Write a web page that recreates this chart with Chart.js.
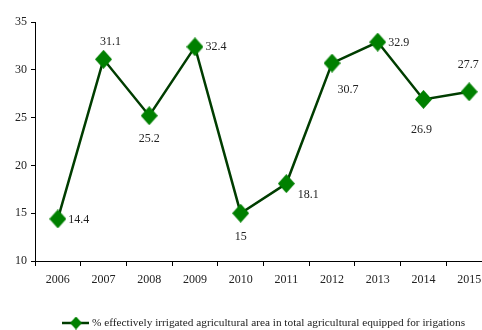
<!DOCTYPE html>
<html lang="en">
<head>
    <meta charset="UTF-8">
    <title>Irrigated agricultural area</title>
    <script src="https://cdn.jsdelivr.net/npm/chart.js"></script>
    <style>
        body {
            margin: 0;
            padding: 0;
            background: #fff;
        }
        /* the original picture is cut off at the right, so the canvas runs a bit past the window */
        #wrap {
            width: 482px;
            height: 330px;
            overflow: hidden;
        }
    </style>
</head>
<body>
    <div id="wrap">
        <canvas id="irrigChart" width="492" height="330"></canvas>
    </div>

    <script>
        // data
        const years = ['2006', '2007', '2008', '2009', '2010', '2011', '2012', '2013', '2014', '2015'];
        const irrigatedShare = [14.4, 31.1, 25.2, 32.4, 15, 18.1, 30.7, 32.9, 26.9, 27.7];
        const seriesName = '% effectively irrigated agricultural area in total agricultural equipped for irigations';

        // where each value label sits relative to its point (dx, dy in px)
        const labelOffsets = [
            [21, 1], [7, -17], [0, 23], [21, 0], [0, 24],
            [22, 11], [16, 27], [21, 1], [-2, 30], [-1, -27]
        ];

        const serif = "'Liberation Serif', 'Times New Roman', serif";
        const lineColor = '#003d00';
        const markerColor = '#008000';

        // diamond marker, a bit taller than wide like the original
        function makeDiamond(w, h) {
            const cv = document.createElement('canvas');
            cv.width = w;
            cv.height = h;
            const c = cv.getContext('2d');
            c.fillStyle = markerColor;
            c.beginPath();
            c.moveTo(w / 2, 0);
            c.lineTo(w, h / 2);
            c.lineTo(w / 2, h);
            c.lineTo(0, h / 2);
            c.closePath();
            c.fill();
            return cv;
        }
        const diamond = makeDiamond(17, 19);
        const smallDiamond = makeDiamond(12, 13);

        const valueLabels = {
            id: 'valueLabels',
            afterDatasetsDraw(chart) {
                const ctx = chart.ctx;
                const meta = chart.getDatasetMeta(0);
                ctx.save();
                ctx.font = '12px ' + serif;
                ctx.fillStyle = '#222';
                ctx.textAlign = 'center';
                ctx.textBaseline = 'middle';
                meta.data.forEach((pt, i) => {
                    const off = labelOffsets[i];
                    ctx.fillText(String(irrigatedShare[i]), pt.x + off[0], pt.y + off[1]);
                });
                ctx.restore();
            }
        };

        // legend drawn by hand: line + diamond, then the series name
        const legendRow = {
            id: 'legendRow',
            afterDraw(chart) {
                const ctx = chart.ctx;
                const y = 323;
                ctx.save();
                ctx.strokeStyle = lineColor;
                ctx.lineWidth = 2.5;
                ctx.beginPath();
                ctx.moveTo(62, y);
                ctx.lineTo(89, y);
                ctx.stroke();
                ctx.drawImage(smallDiamond, 76 - 6, y - 6.5);
                ctx.font = '11.3px ' + serif;
                ctx.fillStyle = '#222';
                ctx.textAlign = 'left';
                ctx.textBaseline = 'middle';
                ctx.fillText(chart.data.datasets[0].label, 92, y);
                ctx.restore();
            }
        };

        const ctx = document.getElementById('irrigChart').getContext('2d');
        new Chart(ctx, {
            type: 'line',
            data: {
                labels: years,
                datasets: [{
                    label: seriesName,
                    data: irrigatedShare,
                    borderColor: lineColor,
                    borderWidth: 2.5,
                    backgroundColor: markerColor,
                    pointStyle: diamond,
                    pointRadius: 9,
                    pointHoverRadius: 9,
                    tension: 0,
                    fill: false,
                    clip: false
                }]
            },
            options: {
                responsive: false,
                animation: false,
                layout: {
                    autoPadding: false,
                    padding: { top: 22, right: 0, left: 0, bottom: 39 }
                },
                plugins: {
                    legend: { display: false },
                    tooltip: { enabled: false }
                },
                scales: {
                    x: {
                        offset: true,
                        afterFit(scale) {
                            scale.paddingLeft = 0;
                            scale.paddingRight = 0;
                            scale.height = 30;
                        },
                        grid: {
                            offset: true,
                            drawOnChartArea: false,
                            tickLength: 5,
                            color: '#000'
                        },
                        border: { color: '#000', width: 1 },
                        ticks: {
                            color: '#222',
                            padding: 7,
                            font: { family: serif, size: 12 }
                        }
                    },
                    y: {
                        min: 10,
                        max: 35,
                        afterFit(scale) {
                            scale.width = 35;
                            scale.paddingTop = 0;
                            scale.paddingBottom = 0;
                        },
                        grid: {
                            drawOnChartArea: false,
                            tickLength: 4,
                            color: '#000'
                        },
                        border: { color: '#000', width: 1 },
                        ticks: {
                            stepSize: 5,
                            color: '#222',
                            padding: 4,
                            font: { family: serif, size: 12 }
                        }
                    }
                }
            },
            plugins: [valueLabels, legendRow]
        });
    </script>
</body>
</html>
